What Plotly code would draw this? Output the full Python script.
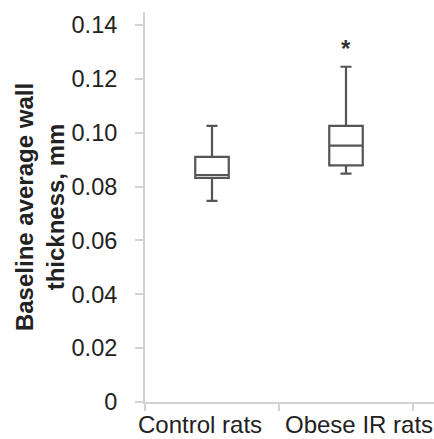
import plotly.graph_objects as go

categories = ["Control rats", "Obese IR rats"]
lower_whisker = [0.0747, 0.0848]
q1_values = [0.0832, 0.0879]
median_values = [0.0843, 0.0952]
q3_values = [0.0910, 0.1025]
upper_whisker = [0.1025, 0.1245]
y_tick_values = [0, 0.02, 0.04, 0.06, 0.08, 0.10, 0.12, 0.14]
y_tick_labels = ["0", "0.02", "0.04", "0.06", "0.08", "0.10", "0.12", "0.14"]
significance_marks = ["", "*"]
significance_y = [None, 0.1326]

FONT = "Liberation Sans, Arial, sans-serif"
BOX_COLOR = "#555555"
AXIS_COLOR = "#d3d3d3"
TEXT_COLOR = "#222222"

fig = go.Figure()
for i, cat in enumerate(categories):
    fig.add_trace(go.Box(
        x=[cat],
        q1=[q1_values[i]],
        median=[median_values[i]],
        q3=[q3_values[i]],
        lowerfence=[lower_whisker[i]],
        upperfence=[upper_whisker[i]],
        width=0.25,
        whiskerwidth=0.33,
        fillcolor="rgba(255,255,255,0)",
        line=dict(color=BOX_COLOR, width=2.2),
        boxpoints=False,
        showlegend=False,
        hoverinfo="skip",
    ))

for i, cat in enumerate(categories):
    if significance_marks[i]:
        fig.add_annotation(
            x=cat, y=significance_y[i], xref="x", yref="y",
            text="<b>" + significance_marks[i] + "</b>", showarrow=False,
            font=dict(family=FONT, size=24, color="#333333"),
            yanchor="middle", yshift=-4,
        )

label_shifts = [-12, 13]
for i, cat in enumerate(categories):
    fig.add_annotation(
        x=cat, y=0, xref="x", yref="paper",
        text=cat, showarrow=False,
        font=dict(family=FONT, size=24, color=TEXT_COLOR),
        yanchor="top", yshift=-7, xshift=label_shifts[i],
    )

fig.update_layout(
    width=434, height=439,
    margin=dict(l=145, r=0, t=12, b=37),
    plot_bgcolor="white", paper_bgcolor="white",
    font=dict(family=FONT, color=TEXT_COLOR),
    xaxis=dict(
        type="category",
        categoryorder="array", categoryarray=categories,
        range=[-0.5, -0.5 + 289 / 134],
        showline=True, linecolor=AXIS_COLOR, linewidth=2,
        ticks="outside", tickson="boundaries", ticklen=7, tickwidth=2, tickcolor=AXIS_COLOR,
        showticklabels=False,
        showgrid=False, zeroline=False,
    ),
    yaxis=dict(
        range=[0, 0.14 * 390.3 / 377.3],
        tickvals=y_tick_values, ticktext=y_tick_labels,
        tickfont=dict(family=FONT, size=23.5, color=TEXT_COLOR),
        showline=True, linecolor=AXIS_COLOR, linewidth=2,
        ticks="outside", ticklen=8, tickwidth=2, tickcolor=AXIS_COLOR,
        ticklabelstandoff=13,
        showgrid=False, zeroline=False,
        title=dict(
            text="<b>Baseline average wall<br>thickness, mm</b>",
            font=dict(family=FONT, size=24, color=TEXT_COLOR),
            standoff=0,
        ),
    ),
)

fig.write_html("out.html", config={"displayModeBar": False},
               post_script="document.body.style.margin='0';")
